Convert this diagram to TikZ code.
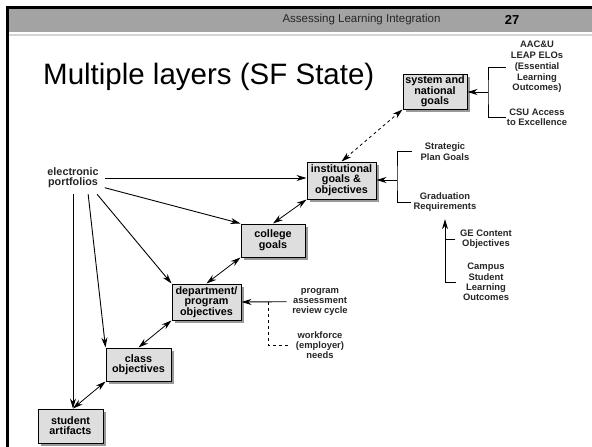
\documentclass[tikz,border=0pt]{standalone}
\usepackage{fontspec}
\setmainfont{Liberation Sans}
\usetikzlibrary{positioning}
\usetikzlibrary{arrows.meta}
\usetikzlibrary{shadows}
\definecolor{headgrey}{HTML}{A3A3A3}
\definecolor{rulegrey}{HTML}{D4D4D4}
\definecolor{boxgrey}{HTML}{DEDEDE}
\definecolor{inkgrey}{HTML}{262626}
\newcommand{\boxfont}{\bfseries\fontsize{10.8}{10}\selectfont}
\newcommand{\notefont}{\bfseries\fontsize{9.4}{10.2}\selectfont}

\begin{document}
\begin{tikzpicture}[x=1pt,y=-1pt,>={Stealth[length=10pt,width=6pt]},
  goal/.style={draw,fill=boxgrey,line width=1pt,align=center,font=\boxfont,inner sep=0pt,
    drop shadow={shadow xshift=2.5pt,shadow yshift=-2.5pt,fill=black!40,opacity=1}},
  note/.style={align=center,font=\notefont,text=inkgrey,inner sep=0pt},
  feed/.style={->,line width=0.9pt},
  link/.style={<->,line width=0.8pt},
  brace/.style={line width=0.8pt}]
\useasboundingbox (0,0) rectangle (592,447);
\fill[white] (0,0) rectangle (592,447);
\fill[headgrey] (9,9) rectangle (592,31.5);
\draw[rulegrey,line width=1.5pt] (9,35) -- (592,35);
\draw[line width=3pt] (7.5,447) -- (7.5,7.5) -- (592,7.5);
\node[font=\fontsize{11.5}{12}\selectfont,text=inkgrey,anchor=base] (head) at (361.5,23) {Assessing Learning Integration};
\node[font=\bfseries\fontsize{13}{14}\selectfont,anchor=base] (page) at (512,24) {27};
\node[font=\fontsize{29.5}{32}\selectfont,anchor=base west,inner sep=0pt] (title) at (43,84.3) {Multiple layers (SF State)};

\node[goal,minimum width=64pt,minimum height=35pt] (sys) at (435,91.5) {system and\\national\\goals};
\node[goal,minimum width=69pt,minimum height=37pt] (inst) at (341.5,180.5) {institutional\\goals \&\\objectives};
\node[goal,minimum width=64pt,minimum height=33pt] (coll) at (273,240.5) {college\\goals};
\node[goal,minimum width=69pt,minimum height=36pt] (dept) at (206.5,302) {department/\\program\\objectives};
\node[goal,minimum width=65pt,minimum height=33pt] (cls) at (138.5,364.5) {class\\objectives};
\node[goal,minimum width=65pt,minimum height=34pt] (stud) at (70.5,426) {student\\artifacts};

\node[note,font=\boxfont,inner xsep=6pt,inner ysep=6pt] (ep) at (73,178) {electronic\\portfolios};
\node[note,font=\bfseries\fontsize{9.4}{10.8}\selectfont] (aac) at (537,67) {AAC\&U\\LEAP ELOs\\(Essential\\Learning\\Outcomes)};
\node[note] (csu) at (537,117) {CSU Access\\to Excellence};
\node[note] (sp) at (445,151.7) {Strategic\\Plan Goals};
\node[note] (gr) at (445,202) {Graduation\\Requirements};
\node[note] (ge) at (486,239) {GE Content\\Objectives};
\node[note] (cs) at (486,282) {Campus\\Student\\Learning\\Outcomes};
\node[note] (pa) at (320,301.7) {program\\assessment\\review cycle};
\node[note] (wf) at (320,345) {workforce\\(employer)\\needs};

\path[feed] (ep.east) edge (ep.east -| inst.west)
  (ep.-17) edge (coll.north west)
  (ep.-34) edge (dept.north west)
  (ep.-47) edge (cls.north west)
  (ep.south) edge (ep.south |- stud.north);
\path[link] (ep.south |- stud.north) edge (cls.south west)
  (cls.north) edge (dept.south west)
  (dept.north) edge (coll.south west)
  (coll.north) edge (inst.south west);
\draw[link,dashed] (inst.north) -- (sys.south west);

\coordinate (ja) at (488,92);
\draw[brace] ([xshift=-5pt]aac.west) -| (ja) |- ([xshift=-1pt]csu.west);
\draw[feed] (ja) -- (ja -| sys.east);
\coordinate (jb) at (397,180);
\draw[brace] ([xshift=-9pt]sp.west) -| (jb) |- ([xshift=-2pt]gr.west);
\draw[feed] (jb) -- (jb -| inst.east);
\draw[feed] ([xshift=-7pt]cs.west) -| ([yshift=-7.5pt]gr.south);
\draw[brace] ([xshift=-4.5pt]ge.west) -- (ge.west -| gr.south);
\draw[feed] ([xshift=-5.5pt]pa.west) -- (dept.east);
\coordinate (jp) at (268,302);
\draw[brace,dashed] (jp) |- ([xshift=-8pt]wf.west);
\end{tikzpicture}
\end{document}
